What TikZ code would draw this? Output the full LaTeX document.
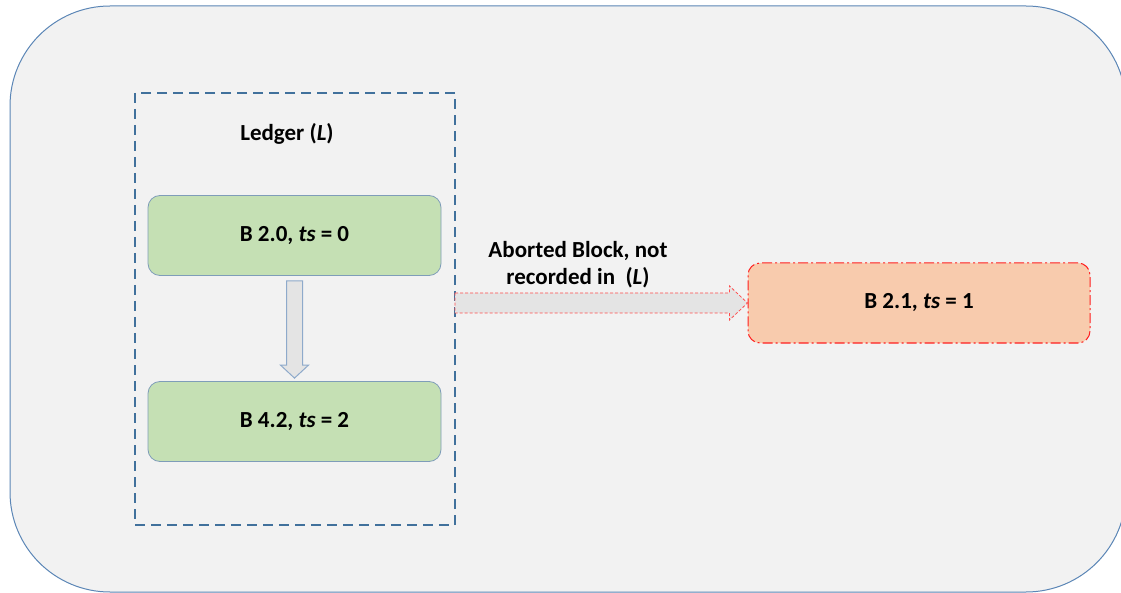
\documentclass[tikz,border=0pt]{standalone}
\usepackage{fontspec}
\setmainfont{Carlito}
\usetikzlibrary{calc}
\definecolor{panel}{HTML}{F2F2F2}
\definecolor{panelline}{HTML}{5B86B6}
\definecolor{ledgerline}{HTML}{41719C}
\definecolor{blockfill}{HTML}{C5E0B4}
\definecolor{blockline}{HTML}{7F9DB9}
\definecolor{abortfill}{HTML}{F8CBAD}
\definecolor{abortline}{HTML}{FF2020}
\definecolor{arrowfill}{HTML}{E4E4E4}
\definecolor{arrowline}{HTML}{8EAACB}
\tikzset{
  labelfont/.style={font=\fontsize{23}{27}\selectfont\bfseries},
  block/.style={labelfont, draw=blockline, fill=blockfill, rounded corners=12pt, line width=0.8pt,
    minimum width=293pt, minimum height=80pt},
  abortbox/.style={labelfont, draw=abortline, fill=abortfill, rounded corners=12pt, line width=1pt,
    dash pattern=on 10pt off 3pt on 2pt off 3pt,
    minimum width=342pt, minimum height=80pt},
  caption/.style={labelfont, align=center},
}
\begin{document}
\begin{tikzpicture}[x=1pt, y=-1pt]
\useasboundingbox (0,0) rectangle (1121,593);
% outer panel
\begin{scope}
  \clip (0,0) rectangle (1121,593);
  \draw[panelline, fill=panel, line width=1pt, rounded corners=100pt] (10,6) rectangle (1126,592);
\end{scope}
% ledger frame
\draw[ledgerline, line width=1.6pt, dash pattern=on 10pt off 6pt] (135,93) rectangle (455,525);
\node[caption] (ledger) at (287,134) {Ledger (\textit{L})};
% blocks
\node[block] (b20) at (294.5,235.5) {B 2.0, \textit{ts} = 0};
\node[block] (b42) at (294.5,421.5) {B 4.2, \textit{ts} = 2};
\node[abortbox] (b21) at (919,303) {B 2.1, \textit{ts} = 1};
% block arrow from B 2.0 to B 4.2
\coordinate (dtop) at ($(b20.south)+(0,5)$);
\coordinate (dtip) at ($(b42.north)+(0,-3)$);
\draw[arrowline, fill=arrowfill, line width=1pt, line join=miter]
  ($(dtop)+(-8,0)$) -- ($(dtop)+(8,0)$) -- ($(dtip)+(8,-13)$) -- ($(dtip)+(14,-13)$)
  -- (dtip) -- ($(dtip)+(-14,-13)$) -- ($(dtip)+(-8,-13)$) -- cycle;
% dashed block arrow from the ledger to B 2.1
\coordinate (rstart) at (455,303);
\coordinate (rtip) at (b21.west);
\draw[abortline!80, fill=arrowfill, line width=0.8pt, dash pattern=on 3pt off 2pt]
  ($(rstart)+(0,-10)$) -- ($(rtip)+(-18,-10)$) -- ($(rtip)+(-18,-17)$) -- (rtip)
  -- ($(rtip)+(-18,17)$) -- ($(rtip)+(-18,10)$) -- ($(rstart)+(0,10)$) -- cycle;
\node[caption] (lbl) at (578,265) {Aborted Block, not\\recorded in\ \ (\textit{L})};
\end{tikzpicture}
\end{document}
